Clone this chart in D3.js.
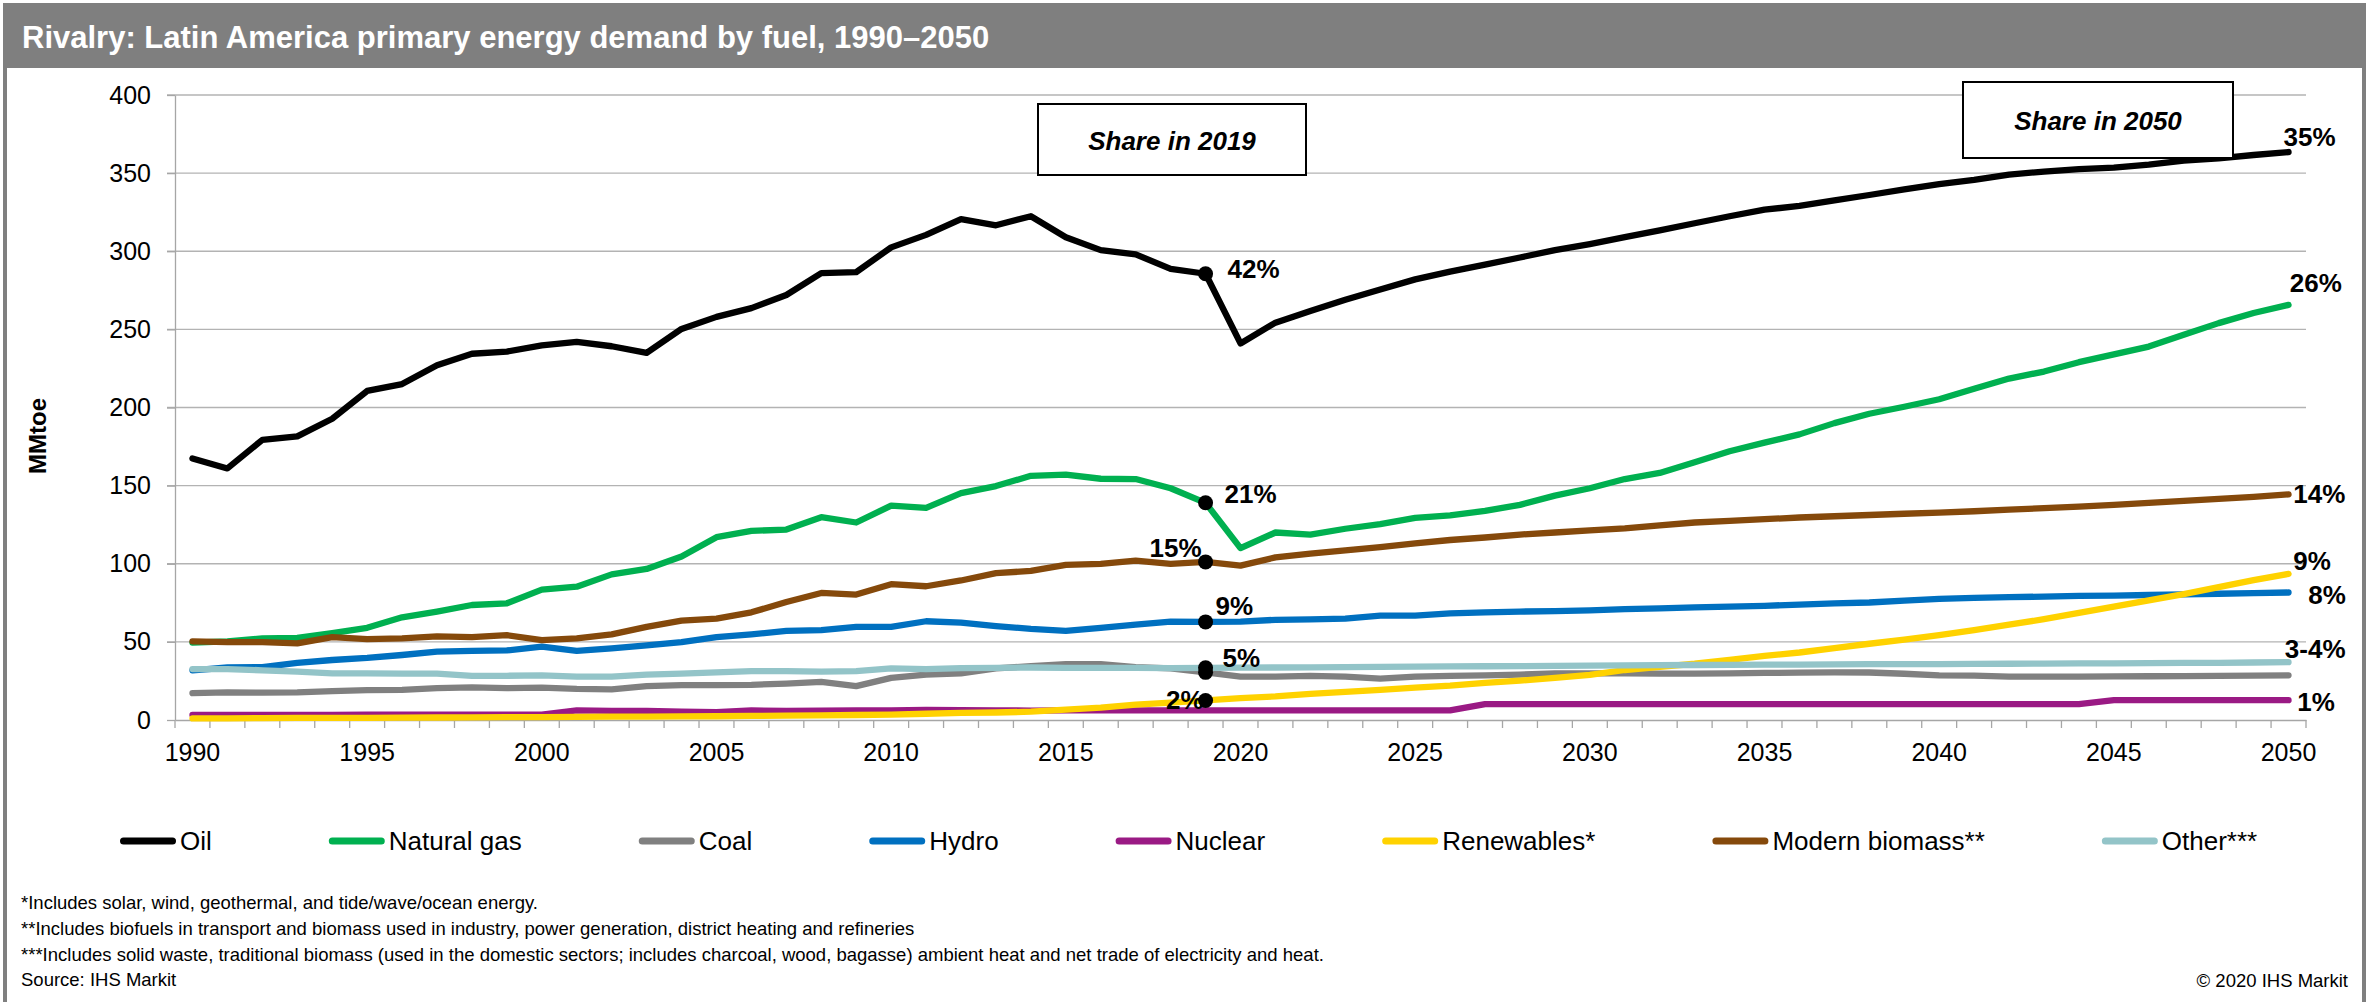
<!DOCTYPE html>
<html>
<head>
<meta charset="utf-8">
<script src="https://cdn.jsdelivr.net/npm/d3@7"></script>
<style>
  body { margin: 0; background: #fff; }
  svg { display: block; font-family: 'Liberation Sans', Arial, sans-serif; }
</style>
</head>
<body>
<svg id="chart" width="2375" height="1002"></svg>
<script>
const years = d3.range(1990, 2051)

const oil = [167.4, 161, 179.3, 181.5, 192.8, 210.6, 215, 227, 234.4, 235.8,
  239.7, 242, 239.2, 235, 250.3, 258, 263.6, 272, 286, 286.6,
  302.5, 310.5, 320.5, 316.6, 322.4, 309, 300.7, 298, 288.7, 285.6,
  241, 254.3, 261.7, 268.9, 275.5, 282, 287, 291.4, 296, 300.7,
  304.6, 309, 313.4, 317.9, 322.4, 326.6, 329, 332.5, 336, 339.6,
  343, 345.7, 349, 351, 352.6, 353.5, 355.5, 358, 359.5, 361.6, 363.5]

const naturalGas = [49.5, 50.3, 52.2, 52.5, 55.6, 59, 65.7, 69.4, 73.6, 74.7,
  83.4, 85.3, 93.2, 96.7, 104.6, 117, 121, 121.9, 129.8, 126.4,
  137.2, 135.8, 145.2, 149.7, 156.3, 157.1, 154.4, 154.2, 148.3, 139,
  110, 120, 118.7, 122.4, 125.3, 129.3, 131, 133.8, 137.7, 143.6,
  148.3, 154.2, 158.1, 165, 172, 177.5, 182.8, 190, 196, 200.5,
  205.3, 212, 218.5, 223, 229, 234, 239, 246.5, 254, 260.5, 265.7]

const coal = [17.2, 17.7, 17.5, 17.7, 18.5, 19.1, 19.3, 20.4, 20.9, 20.4,
  20.7, 19.9, 19.6, 21.7, 22.3, 22.3, 22.5, 23.3, 24.4, 21.7,
  27, 29.1, 29.9, 33.1, 34.4, 35.8, 35.8, 33.9, 33.1, 30.5,
  27.8, 27.8, 28.3, 27.8, 26.5, 27.8, 28.3, 28.6, 29.1, 29.9,
  29.9, 29.9, 29.7, 29.7, 29.9, 30.1, 30.3, 30.5, 30.4, 29.6,
  28.6, 28.4, 27.8, 27.7, 27.8, 27.9, 28, 28.1, 28.2, 28.4, 28.6]

const hydro = [31.8, 33.6, 33.9, 36.6, 38.4, 39.7, 41.6, 43.7, 44.2, 44.5,
  46.9, 44.2, 45.8, 47.7, 49.8, 53, 54.8, 57, 57.5, 59.6,
  59.6, 63.2, 62.3, 60.1, 58.3, 57, 59, 61, 63, 62.8,
  63, 64.1, 64.4, 64.9, 66.8, 66.8, 68.3, 68.9, 69.4, 69.7,
  70.2, 71, 71.5, 72.1, 72.6, 73.1, 73.9, 74.6, 75.2, 76.4,
  77.5, 78.2, 78.6, 79, 79.4, 79.6, 80, 80.4, 80.8, 81.2, 81.6]

const nuclear = [3.2, 3.3, 3.3, 3.2, 3.3, 3.4, 3.4, 3.5, 3.4, 3.4,
  3.4, 6.1, 5.8, 5.9, 5.3, 5, 6.1, 5.8, 6, 6.1,
  6.1, 6.4, 6.3, 6.2, 6, 6.1, 6.1, 6.2, 6.1, 6.1,
  6.1, 6.1, 6.1, 6.1, 6.1, 6.1, 6.1, 10.2, 10.2, 10.2,
  10.2, 10.2, 10.2, 10.2, 10.2, 10.2, 10.2, 10.2, 10.2, 10.2,
  10.2, 10.2, 10.2, 10.2, 10.2, 12.7, 12.7, 12.7, 12.7, 12.7, 12.7]

const renewables = [1, 1.1, 1.2, 1.3, 1.3, 1.4, 1.5, 1.6, 1.7, 1.8,
  1.8, 2, 2.1, 2.2, 2.3, 2.4, 2.6, 2.8, 3, 3.2,
  3.5, 4, 4.5, 4.8, 5.3, 6.6, 7.9, 9.8, 11.1, 12.5,
  14, 15.1, 16.7, 18, 19.3, 20.7, 22, 23.8, 25.2, 27,
  28.9, 32, 34, 36, 38.5, 41, 43.2, 46, 48.8, 51.5,
  54.3, 57.5, 61, 64.5, 68.5, 72.5, 76.5, 80.5, 85, 89.5, 93.5]

const modernBiomass = [50.3, 49.8, 49.8, 49, 53, 51.7, 52.2, 53.5, 53, 54.3,
  51.1, 52.2, 54.8, 59.6, 63.6, 64.9, 68.9, 75.5, 81.3, 80.3,
  86.9, 85.6, 89.3, 94, 95.4, 99.3, 99.9, 102, 99.9, 101.2,
  98.8, 104.1, 106.5, 108.6, 110.7, 113.1, 115.2, 116.8, 118.7, 120,
  121.3, 122.6, 124.5, 126.4, 127.4, 128.5, 129.6, 130.4, 131.2, 132,
  132.7, 133.6, 134.6, 135.6, 136.5, 137.7, 139, 140.3, 141.5, 142.8, 144.4]

const other = [32.6, 32.6, 31.8, 31, 29.9, 29.9, 29.7, 29.7, 28.3, 28.3,
  28.6, 27.8, 27.8, 29.1, 29.7, 30.5, 31.3, 31.3, 31, 31.3,
  33.1, 32.6, 33.2, 33.4, 33.6, 33.4, 33.3, 33.3, 33.2, 33.4,
  33.5, 33.6, 33.7, 33.8, 34, 34.1, 34.3, 34.4, 34.5, 34.7,
  34.8, 35, 35.1, 35.2, 35.3, 35.4, 35.5, 35.6, 35.7, 35.8,
  35.8, 35.9, 36, 36.1, 36.2, 36.3, 36.4, 36.5, 36.6, 36.8, 37]

const seriesNames = ['Oil', 'Natural gas', 'Coal', 'Hydro', 'Nuclear', 'Renewables*', 'Modern biomass**', 'Other***']
const seriesValues = [oil, naturalGas, coal, hydro, nuclear, renewables, modernBiomass, other]
const seriesColors = ['#000000', '#00b050', '#808080', '#0070c0', '#9a1a84', '#ffd200', '#85490b', '#93c4c8']

const yTicks = [0, 50, 100, 150, 200, 250, 300, 350, 400]
const xTickYears = [1990, 1995, 2000, 2005, 2010, 2015, 2020, 2025, 2030, 2035, 2040, 2045, 2050]

// share labels: series index, text
const share2019 = [[0, '42%'], [1, '21%'], [6, '15%'], [3, '9%'], [7, '5%'], [5, '2%']]
const dots2019 = [0, 1, 6, 3, 7, 2, 5]
const share2050 = [[0, '35%'], [1, '26%'], [6, '14%'], [5, '9%'], [3, '8%'], [7, '3-4%'], [4, '1%']]

const footnotes = [
  '*Includes solar, wind, geothermal, and tide/wave/ocean energy.',
  '**Includes biofuels in transport and biomass used in industry, power generation, district heating and refineries',
  '***Includes solid waste, traditional biomass (used in the domestic sectors; includes charcoal, wood, bagasse) ambient heat and net trade of electricity and heat.',
  'Source: IHS Markit'
]

const svg = d3.select('#chart')

// frame + title bar
svg.append('rect')
  .attr('x', 5).attr('y', 5).attr('width', 2359).attr('height', 1030)
  .attr('fill', 'none').attr('stroke', '#7f7f7f').attr('stroke-width', 4)
svg.append('rect')
  .attr('x', 3).attr('y', 5).attr('width', 2363).attr('height', 63)
  .attr('fill', '#7f7f7f')
svg.append('text')
  .attr('x', 22).attr('y', 47.5)
  .attr('fill', '#ffffff')
  .style('font-size', '31px').style('font-weight', 'bold')
  .text('Rivalry: Latin America primary energy demand by fuel, 1990\u20132050')

const x = d3.scaleBand().domain(years).range([175, 2306])
const bw = x.bandwidth()
const cx = yr => x(yr) + bw / 2
const y = d3.scaleLinear().domain([0, 400]).range([720, 95])

// gridlines
svg.append('g').selectAll('line')
  .data(yTicks.filter(d => d > 0))
  .join('line')
  .attr('x1', 167).attr('x2', 2306)
  .attr('y1', d => y(d)).attr('y2', d => y(d))
  .attr('stroke', '#b3b3b3').attr('stroke-width', 1.3)

// y axis
const yAxis = svg.append('g')
  .attr('transform', 'translate(175,0)')
  .call(d3.axisLeft(y).tickValues(yTicks).tickSize(8).tickSizeOuter(0).tickPadding(16))
yAxis.selectAll('line, path').attr('stroke', '#a6a6a6').attr('stroke-width', 1.3)
yAxis.selectAll('text').style('font-size', '25px').attr('fill', '#000')
  .style('font-family', "'Liberation Sans', Arial, sans-serif")

// x axis
const xAxis = svg.append('g')
  .attr('transform', 'translate(0,720)')
  .call(d3.axisBottom(x).tickValues(xTickYears).tickSizeInner(0).tickSizeOuter(0).tickPadding(23))
xAxis.select('path').attr('stroke', '#a6a6a6').attr('stroke-width', 1.3)
xAxis.selectAll('text').style('font-size', '25px').attr('fill', '#000')
  .style('font-family', "'Liberation Sans', Arial, sans-serif")

const bounds = years.map(d => x(d)).concat([x.range()[1]])
svg.append('g').selectAll('line')
  .data(bounds)
  .join('line')
  .attr('x1', d => d).attr('x2', d => d)
  .attr('y1', 720).attr('y2', 728)
  .attr('stroke', '#a6a6a6').attr('stroke-width', 1.3)

// lines
const line = d3.line()
  .x((d, i) => cx(years[i]))
  .y(d => y(d))

svg.append('g').selectAll('path')
  .data(seriesValues)
  .join('path')
  .attr('d', d => line(d))
  .attr('fill', 'none')
  .attr('stroke', (d, i) => seriesColors[i])
  .attr('stroke-width', 6.3)
  .attr('stroke-linejoin', 'round')
  .attr('stroke-linecap', 'round')

// 2019 dots
const i2019 = years.indexOf(2019)
const i2050 = years.indexOf(2050)
svg.append('g').selectAll('circle')
  .data(dots2019)
  .join('circle')
  .attr('cx', cx(2019))
  .attr('cy', d => y(seriesValues[d][i2019]))
  .attr('r', 7.5)
  .attr('fill', '#000')

// label offsets (layout only)
const off2019 = [[22, 4.5, 'start'], [19, 0.5, 'start'], [-4, -5, 'end'], [10, -6.6, 'start'], [17, -0.7, 'start'], [-2, 8.4, 'end']]
const off2050 = [[-5, -5.6], [1.3, -13], [4.7, 9], [4.7, -3.5], [19.7, 11.5], [-3.7, -4.4], [8.7, 10.7]]

svg.append('g').selectAll('text')
  .data(share2019)
  .join('text')
  .attr('x', (d, i) => cx(2019) + off2019[i][0])
  .attr('y', (d, i) => y(seriesValues[d[0]][i2019]) + off2019[i][1])
  .attr('text-anchor', (d, i) => off2019[i][2])
  .style('font-size', '26px').style('font-weight', 'bold')
  .text(d => d[1])

svg.append('g').selectAll('text')
  .data(share2050)
  .join('text')
  .attr('x', (d, i) => cx(2050) + off2050[i][0])
  .attr('y', (d, i) => y(seriesValues[d[0]][i2050]) + off2050[i][1])
  .style('font-size', '26px').style('font-weight', 'bold')
  .text(d => d[1])

// share boxes
function shareBox(bx, by, bwid, bht, label) {
  const g = svg.append('g')
  g.append('rect')
    .attr('x', bx).attr('y', by).attr('width', bwid).attr('height', bht)
    .attr('fill', '#fff').attr('stroke', '#000').attr('stroke-width', 2)
  g.append('text')
    .attr('x', bx + bwid / 2).attr('y', by + bht / 2 + 10)
    .attr('text-anchor', 'middle')
    .style('font-size', '26px').style('font-weight', 'bold').style('font-style', 'italic')
    .text(label)
}
shareBox(1038, 104, 268, 71, 'Share in 2019')
shareBox(1963, 82, 270, 76, 'Share in 2050')

// y title
svg.append('text')
  .attr('transform', 'translate(46,436) rotate(-90)')
  .attr('text-anchor', 'middle')
  .style('font-size', '24px').style('font-weight', 'bold')
  .text('MMtoe')

// legend
const legend = svg.append('g').attr('transform', 'translate(0,841)')
let lx = 120
seriesNames.forEach((name, i) => {
  legend.append('line')
    .attr('x1', lx + 3.5).attr('x2', lx + 52.5)
    .attr('y1', 0).attr('y2', 0)
    .attr('stroke', seriesColors[i]).attr('stroke-width', 7)
    .attr('stroke-linecap', 'round')
  const t = legend.append('text')
    .attr('x', lx + 60).attr('y', 9)
    .style('font-size', '26px')
    .text(name)
  lx = lx + 60 + t.node().getComputedTextLength() + 117
})

// footnotes
svg.append('g').selectAll('text')
  .data(footnotes)
  .join('text')
  .attr('x', 21)
  .attr('y', (d, i) => 909 + i * 25.8)
  .style('font-size', '18.5px')
  .text(d => d)

svg.append('text')
  .attr('x', 2348).attr('y', 986.5)
  .attr('text-anchor', 'end')
  .style('font-size', '18.5px')
  .text('\u00a9 2020 IHS Markit')
</script>
</body>
</html>
